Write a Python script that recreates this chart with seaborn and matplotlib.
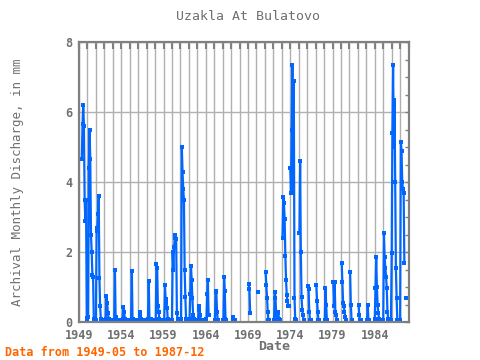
import numpy as np
import pandas as pd
import matplotlib
matplotlib.use('Agg')
import matplotlib.pyplot as plt
from matplotlib.ticker import MultipleLocator
import seaborn as sns

# chart text
title = 'Uzakla At Bulatovo'
y_label = 'Archival Monthly Discharge, in mm'
x_label = 'Date'
footer = 'Data from 1949-05 to 1987-12'

first_year = 1949
x_tick_years = [1949, 1954, 1959, 1964, 1969, 1974, 1979, 1984]
y_ticks = [0, 2, 4, 6, 8]

# monthly discharge in mm, one row per year Jan..Dec, None = no record
discharge = [
    [None, None, None, None, 4.65, 5.65, 6.2, 5.6, 3.5, 2.9, 3.5, 0.12],   # 1949
    [0.1, 0.15, 4.4, 5.5, 4.65, 2.5, 2.0, 1.35, 1.3, 0.1, 0.05, None],     # 1950
    [0.05, 2.6, 2.7, 3.1, 3.6, 1.25, 0.45, 0.1, 0.05, 0.05, None, None],   # 1951
    [None, 0.05, 0.1, 0.74, 0.55, 0.25, 0.1, 0.05, 0.05, 0.05, None, None],  # 1952
    [None, 0.05, 0.05, 1.48, 0.15, 0.08, 0.05, 0.05, 0.05, None, None, None],  # 1953
    [None, 0.05, 0.1, 0.44, 0.3, 0.1, 0.05, 0.05, None, None, None, None],  # 1954
    [None, 0.05, 0.05, 1.45, 0.1, 0.05, 0.05, 0.05, 0.05, None, None, None],  # 1955
    [None, 0.05, 0.2, 0.3, 0.1, 0.05, 0.05, 0.05, 0.05, None, None, None],  # 1956
    [None, 0.05, 0.1, 1.18, 0.1, 0.05, 0.08, 0.05, 0.05, 0.05, 0.05, None],  # 1957
    [None, 0.05, 1.65, 1.55, 0.45, 0.3, 0.1, 0.05, 0.05, None, None, None],  # 1958
    [None, 0.05, 1.05, 0.65, 0.55, 0.4, 0.1, 0.05, 0.05, None, None, None],  # 1959
    [0.05, 1.99, 1.5, 2.15, 2.4, 2.5, 2.37, 0.25, 0.1, 0.05, None, None],  # 1960
    [None, 0.1, 5.0, 4.3, 3.8, 3.5, 1.5, 0.72, 0.1, 0.05, None, None],     # 1961
    [None, 0.1, 0.8, 1.6, 1.2, 0.7, 0.2, 0.1, 0.05, None, None, None],     # 1962
    [None, 0.05, 0.35, 0.45, 0.2, 0.05, 0.05, None, None, None, None, None],  # 1963
    [None, 0.1, 0.8, 1.2, 0.2, 0.2, None, None, None, None, None, None],   # 1964
    [None, 0.05, 0.9, 0.85, 0.3, 0.05, None, None, None, None, None, None],  # 1965
    [None, 0.05, 1.3, 0.9, 0.1, 0.05, None, None, None, None, None, None],  # 1966
    [None, None, 0.1, 0.15, 0.05, 0.05, None, None, None, None, None, None],  # 1967
    [None, None, None, None, None, None, None, None, None, None, None, None],  # 1968
    [None, 1.08, 0.95, 0.27, None, None, None, None, None, None, None, None],  # 1969
    [None, None, 0.85, None, None, None, None, None, None, None, None, None],  # 1970
    [None, 1.42, 1.05, 0.7, 0.3, 0.05, 0.05, None, None, None, None, None],  # 1971
    [None, 0.05, 0.85, 0.7, 0.2, 0.05, 0.3, 0.25, 0.1, 0.05, None, None],  # 1972
    [None, 2.4, 3.58, 3.4, 2.95, 1.9, 1.2, 0.77, 0.6, 0.47, 0.47, None],   # 1973
    [4.4, 3.7, 5.5, 7.35, 3.7, 6.9, 0.7, 0.1, 0.05, None, None, None],     # 1974
    [None, 2.55, 4.6, 2.0, 0.72, 0.35, 0.2, 0.05, None, None, None, None],  # 1975
    [None, 1.03, 0.95, 0.3, 0.05, 0.05, None, None, None, None, None, None],  # 1976
    [None, 1.06, 0.6, 0.3, 0.05, 0.05, None, None, None, None, None, None],  # 1977
    [None, 0.05, 0.97, 0.5, 0.05, None, None, None, None, None, None, None],  # 1978
    [None, 1.15, 0.45, 1.15, 0.3, 0.2, 0.05, None, None, None, None, None],  # 1979
    [None, 1.7, 1.15, 0.55, 0.45, 0.3, 0.15, 0.05, None, None, None, None],  # 1980
    [None, 1.42, 0.5, 0.05, 0.05, None, None, None, None, None, None, None],  # 1981
    [None, 0.5, 0.2, 0.05, 0.05, None, None, None, None, None, None, None],  # 1982
    [None, 0.05, 0.5, 0.05, 0.05, None, None, None, None, None, None, None],  # 1983
    [0.1, 0.96, 1.87, 1.0, 0.5, 0.25, 0.1, 0.05, None, None, None, None],  # 1984
    [0.05, 2.53, 1.85, 1.55, 1.3, 0.97, 0.3, 0.1, 0.05, None, None, 0.05],  # 1985
    [1.96, 5.4, 7.35, 5.0, 6.35, 4.0, 1.53, 0.7, 0.05, None, None, None],  # 1986
    [0.05, 5.15, 4.9, 4.0, 3.8, 3.7, 1.7, None, 0.7, None, None, None],    # 1987
]

# long table, breaking the line wherever a month is missing
rows = []
seg = 0
for i, year_vals in enumerate(discharge):
    for m, v in enumerate(year_vals):
        if v is None:
            seg += 1
            continue
        rows.append({'t': first_year + i + m / 12.0, 'v': v, 'seg': seg})
df = pd.DataFrame(rows)

sns.set_style('white')
plt.rcParams['font.family'] = ['DejaVu Sans Mono']

frame_col = '#808080'
text_col = '#707070'

fig = plt.figure(figsize=(4.8, 3.6), dpi=100)
ax = fig.add_axes([79 / 480, 1 - 322 / 360, 330 / 480, 280 / 360])

sns.lineplot(data=df, x='t', y='v', units='seg', estimator=None,
             color='#0066ff', linewidth=1.6, marker='s', markersize=2.5,
             markeredgewidth=0, legend=False, ax=ax)

ax.set_xlim(1949, 1988.05)
ax.set_ylim(0, 8)
ax.set_xticks(x_tick_years)
ax.xaxis.set_minor_locator(MultipleLocator(1))
ax.set_yticks(y_ticks)
ax.yaxis.set_minor_locator(MultipleLocator(0.5))

ax.grid(True, which='major', axis='y', color='#b0b0b0', linewidth=1)
ax.grid(True, which='both', axis='x', color='#b0b0b0', linewidth=1)
ax.set_axisbelow(True)

ax.tick_params(axis='both', which='both', direction='in', color=frame_col,
               top=True, right=True, labelcolor=text_col, labelsize=8.5)
ax.tick_params(axis='x', which='both', length=5, width=1.5, pad=5)
ax.tick_params(axis='y', which='both', length=3, width=1, pad=5)
for lab in ax.get_xticklabels() + ax.get_yticklabels():
    lab.set_fontweight('bold')

for s in ax.spines.values():
    s.set_color(frame_col)
    s.set_linewidth(1.6)

ax.set_xlabel('')
ax.set_ylabel('')

fig.text(248 / 480, 1 - 17 / 360, title, ha='center', va='center',
         fontsize=9.5, color=text_col)
fig.text(274 / 480, 1 - 347 / 360, x_label, ha='center', va='center',
         fontsize=9.5, color=text_col, fontweight='bold')
fig.text(18 / 480, 1 - 182 / 360, y_label, ha='center', va='center',
         rotation=90, fontsize=9, color=text_col)
fig.text(5 / 480, 1 - 352 / 360, footer, ha='left', va='center',
         fontsize=8.5, color='#ff6600', fontweight='bold')

fig.savefig('out.png', dpi=100)
